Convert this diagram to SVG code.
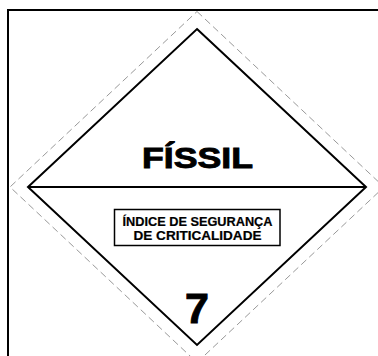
<svg xmlns="http://www.w3.org/2000/svg" width="378" height="356" viewBox="0 0 378 356">
<style>
.t{font-family:"Liberation Sans",Arial,sans-serif;font-weight:bold;fill:#000;text-anchor:middle}
.ln{fill:none;stroke:#000;stroke-width:2}
</style>
<rect width="378" height="356" fill="#fff"/>
<g id="frame"><path class="ln" d="M8,360 V10 H382"/></g>
<g id="cutline"><polygon points="197,11.5 384,187 197,362.5 10,187" fill="none" stroke="#999" stroke-width="1" stroke-dasharray="7 4"/></g>
<g id="label">
<polygon class="ln" points="197,29 366,187 197,345 28,187" stroke-linejoin="miter"/>
<line class="ln" x1="28" y1="187" x2="366" y2="187"/>
</g>
<g id="title"><text class="t" x="197.5" y="167.5" font-size="30" stroke="#000" stroke-width="0.9" textLength="111" lengthAdjust="spacingAndGlyphs">FÍSSIL</text></g>
<g id="csi">
<rect x="114.5" y="209.5" width="165.5" height="36" fill="none" stroke="#000" stroke-width="1.5"/>
<text class="t" x="197.5" y="225.5" font-size="12" stroke="#000" stroke-width="0.2" textLength="150" lengthAdjust="spacingAndGlyphs">ÍNDICE DE SEGURANÇA</text>
<text class="t" x="197.5" y="239.5" font-size="12" stroke="#000" stroke-width="0.2" textLength="128" lengthAdjust="spacingAndGlyphs">DE CRITICALIDADE</text>
</g>
<g id="class"><text class="t" x="197" y="322.5" font-size="43" stroke="#000" stroke-width="1">7</text></g>
</svg>
